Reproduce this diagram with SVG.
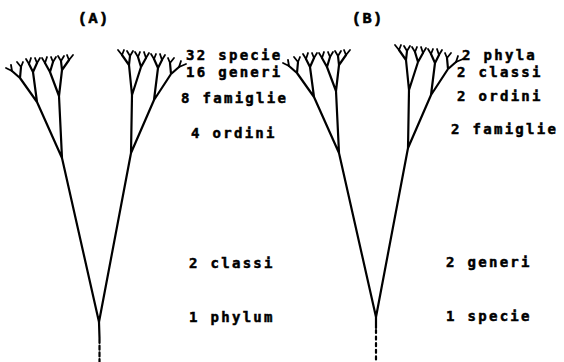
<svg xmlns="http://www.w3.org/2000/svg" width="564" height="362" viewBox="0 0 564 362">
<style>
.br{fill:none;stroke:#000;stroke-width:2.2;stroke-linecap:round;stroke-linejoin:round}
.tp{fill:none;stroke:#000;stroke-width:1.8;stroke-linecap:round;stroke-linejoin:round}
.lb{font-family:"DejaVu Sans Mono","Liberation Mono",monospace;font-weight:bold;font-size:14px;letter-spacing:2.3px;fill:#000;stroke:#000;stroke-width:0.5}
.tt{font-family:"Liberation Mono","DejaVu Sans Mono",monospace;font-weight:bold;font-size:15px;letter-spacing:1.5px;fill:#000;stroke:#000;stroke-width:0.6}
</style>
<defs>
<g id="tree">
<path class="br" d="M99,322 L62,158 M99,322 L131,153
M62,158 L37,102 M62,158 L59,96
M37,102 L20,78 M37,102 L33,72
M20,78 L12,71 M20,78 L21,67
M33,72 L29,64 M33,72 L37,63
M59,96 L50,72 M59,96 L62,70
M50,72 L45,63 M50,72 L53,62
M62,70 L61,61 M62,70 L69,60
M131,153 L154,100 M131,153 L132,95
M154,100 L171,74 M154,100 L158,68
M171,74 L179,67 M171,74 L170,63
M158,68 L162,60 M158,68 L154,59
M132,95 L141,67 M132,95 L129,65
M141,67 L146,58 M141,67 L138,57
M129,65 L130,56 M129,65 L122,55"/>
<path class="tp" d="M12,71 L6,68 M12,71 L11,65
M21,67 L17,62 M21,67 L23,62
M29,64 L26,59 M29,64 L31,58
M37,63 L35,58 M37,63 L40,58
M45,63 L42,58 M45,63 L47,57
M53,62 L51,57 M53,62 L56,57
M61,61 L58,56 M61,61 L64,56
M69,60 L67,55 M69,60 L73,55
M179,67 L186,64 M179,67 L181,61
M170,63 L174,58 M170,63 L168,58
M162,60 L165,55 M162,60 L160,54
M154,59 L156,54 M154,59 L151,54
M146,58 L149,53 M146,58 L144,52
M138,57 L140,52 M138,57 L135,52
M130,56 L133,51 M130,56 L127,51
M122,55 L124,50 M122,55 L118,50"/>
</g>
</defs>
<g id="tree-A">
<use href="#tree"/>
<path class="br" d="M99,322 L99.5,338"/>
<path class="br" d="M99.5,339 L99.5,362" stroke-dasharray="4 2.7" stroke-linecap="butt"/>
</g>
<g id="tree-B">
<use href="#tree" transform="translate(277,-5)"/>
<path class="br" d="M376,317 L376,328"/>
<path class="br" d="M376,330 L376,362" stroke-dasharray="3 3.6" stroke-linecap="butt"/>
</g>
<g id="labels-A">
<text class="tt" x="78" y="23">(A)</text>
<text class="lb" x="186" y="60">32 specie</text>
<text class="lb" x="186" y="77">16 generi</text>
<text class="lb" x="181" y="103">8 famiglie</text>
<text class="lb" x="191" y="138">4 ordini</text>
<text class="lb" x="189" y="268">2 classi</text>
<text class="lb" x="189" y="322">1 phylum</text>
</g>
<g id="labels-B">
<text class="tt" x="352" y="23">(B)</text>
<text class="lb" x="462" y="60">2 phyla</text>
<text class="lb" x="457" y="77">2 classi</text>
<text class="lb" x="457" y="101">2 ordini</text>
<text class="lb" x="451" y="134">2 famiglie</text>
<text class="lb" x="446" y="267">2 generi</text>
<text class="lb" x="446" y="321">1 specie</text>
</g>
</svg>
